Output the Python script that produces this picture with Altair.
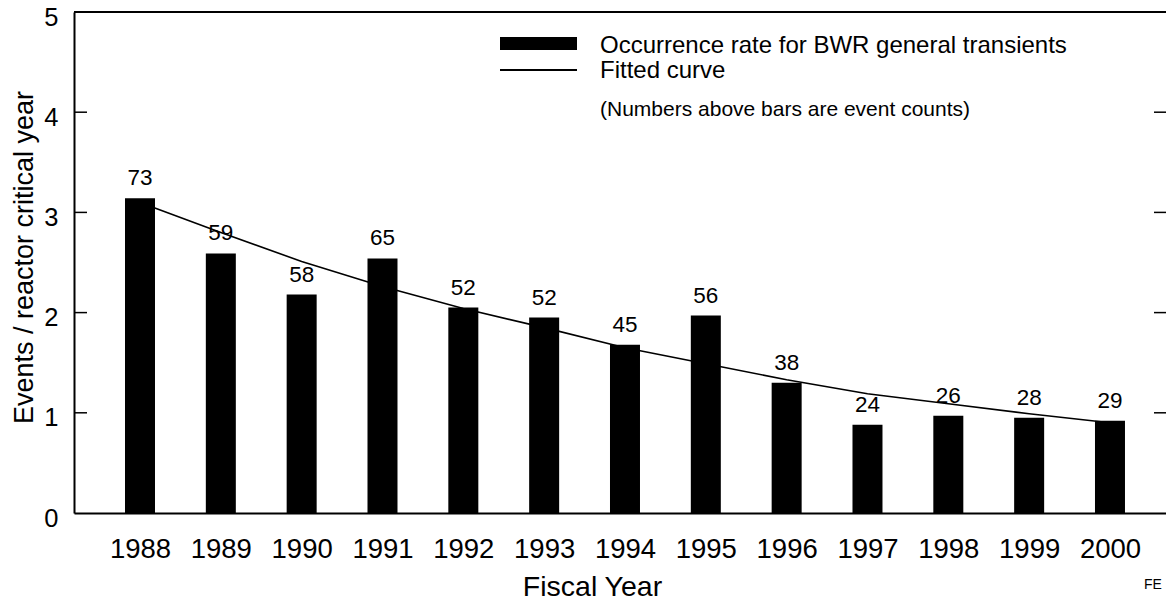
import altair as alt
import pandas as pd

years = [1988, 1989, 1990, 1991, 1992, 1993, 1994, 1995, 1996, 1997, 1998, 1999, 2000]
rates = [3.14, 2.59, 2.18, 2.54, 2.05, 1.95, 1.68, 1.97, 1.30, 0.88, 0.97, 0.95, 0.92]
counts = [73, 59, 58, 65, 52, 52, 45, 56, 38, 24, 26, 28, 29]
fitted = [3.10, 2.80, 2.51, 2.26, 2.04, 1.85, 1.65, 1.49, 1.33, 1.19, 1.09, 0.99, 0.90]
y_ticks = [0, 1, 2, 3, 4, 5]
inner_ticks = [1, 2, 3, 4]

legend_bar = "Occurrence rate for BWR general transients"
legend_line = "Fitted curve"
legend_note = "(Numbers above bars are event counts)"
y_title = "Events / reactor critical year"
x_title = "Fiscal Year"
corner_text = "FE"

df = pd.DataFrame({"year": years, "rate": rates, "count": counts, "fit": fitted})
ticks_df = pd.DataFrame({"v": inner_ticks})
one = pd.DataFrame({"k": [0]})

W, H = 1092, 501
FONT = "Liberation Sans"

xscale = alt.Scale(domain=[1987.1835, 2000.693], nice=False, zero=False, padding=0)
yscale = alt.Scale(domain=[0, 5], nice=False)

xaxis = alt.Axis(values=years, format="d", labelFontSize=27.5, labelPadding=22,
                 ticks=False, grid=False, domainWidth=2, domainColor="black",
                 labelColor="black", labelFlush=False, labelOverlap=False,
                 title=x_title, titleFontSize=28.5, titleFontWeight="normal",
                 titleColor="black", titleX=518, titleY=82,
                 titleBaseline="alphabetic", titleAnchor="start", titleAlign="center")
yaxis = alt.Axis(values=y_ticks, labelFontSize=25.5, labelPadding=16, labelOffset=5,
                 ticks=False, grid=False, domainWidth=2, domainColor="black",
                 labelColor="black",
                 title=y_title, titleFontSize=27, titleFontWeight="normal",
                 titleColor="black", titleX=-50, titleY=245, titleBaseline="middle")

base = alt.Chart(df)

line = base.mark_line(color="black", strokeWidth=1.6).encode(
    x=alt.X("year:Q", scale=xscale, axis=xaxis),
    y=alt.Y("fit:Q", scale=yscale, axis=yaxis),
)

bars = base.mark_bar(color="black", size=30).encode(
    x=alt.X("year:Q", scale=xscale, axis=xaxis),
    y=alt.Y("rate:Q", scale=yscale, axis=yaxis),
)

labels = base.mark_text(fontSize=22.5, dy=-13, baseline="alphabetic",
                        color="black", font=FONT).encode(
    x=alt.X("year:Q", scale=xscale, axis=xaxis),
    y=alt.Y("rate:Q", scale=yscale, axis=yaxis),
    text=alt.Text("count:Q"),
)

left_ticks = alt.Chart(ticks_df).mark_rule(color="black", strokeWidth=1.5).encode(
    y=alt.Y("v:Q", scale=yscale, axis=yaxis),
    x=alt.value(0), x2=alt.value(13),
)
right_ticks = alt.Chart(ticks_df).mark_rule(color="black", strokeWidth=1.5).encode(
    y=alt.Y("v:Q", scale=yscale, axis=yaxis),
    x=alt.value(W - 12), x2=alt.value(W),
)

top_border = alt.Chart(one).mark_rule(color="black", strokeWidth=2).encode(
    x=alt.value(0), x2=alt.value(W), y=alt.value(0)
)

leg_rect = alt.Chart(one).mark_rect(color="black").encode(
    x=alt.value(426), x2=alt.value(503), y=alt.value(25), y2=alt.value(38)
)
leg_rule = alt.Chart(one).mark_rule(color="black", strokeWidth=2).encode(
    x=alt.value(426), x2=alt.value(503), y=alt.value(58)
)
leg_t1 = alt.Chart(one).mark_text(align="left", baseline="alphabetic", fontSize=24,
                                  font=FONT, color="black").encode(
    x=alt.value(526), y=alt.value(41), text=alt.value(legend_bar))
leg_t2 = alt.Chart(one).mark_text(align="left", baseline="alphabetic", fontSize=24,
                                  font=FONT, color="black").encode(
    x=alt.value(526), y=alt.value(66), text=alt.value(legend_line))
leg_t3 = alt.Chart(one).mark_text(align="left", baseline="alphabetic", fontSize=21,
                                  font=FONT, color="black").encode(
    x=alt.value(526), y=alt.value(104), text=alt.value(legend_note))
corner = alt.Chart(one).mark_text(align="left", baseline="alphabetic", fontSize=14,
                                  font=FONT, color="black").encode(
    x=alt.value(1070), y=alt.value(577), text=alt.value(corner_text))

chart = alt.layer(
    line, bars, labels, left_ticks, right_ticks, top_border,
    leg_rect, leg_rule, leg_t1, leg_t2, leg_t3, corner
).properties(
    width=W, height=H,
    autosize=alt.AutoSizeParams(type="none"),
    padding={"left": 66, "top": 4, "right": 0, "bottom": 89},
    background="white",
).configure_view(stroke=None).configure(font=FONT)

chart.save("out.html", embed_options={"renderer": "svg", "actions": False})
